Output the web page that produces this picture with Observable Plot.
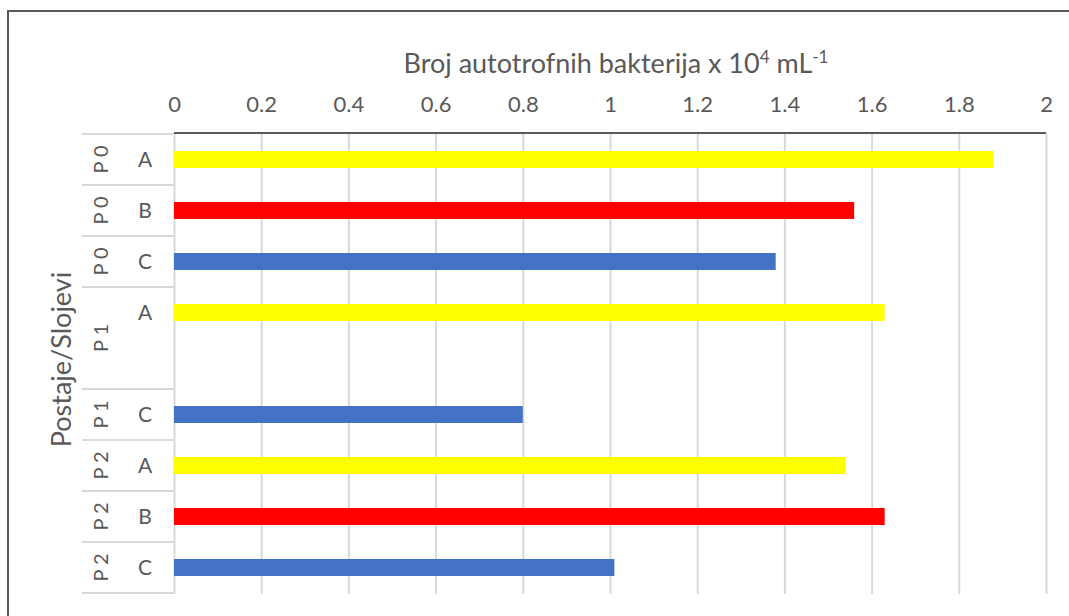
<!DOCTYPE html>
<html>
<head>
<meta charset="utf-8">
<script src="https://cdn.jsdelivr.net/npm/d3@7"></script>
<script src="https://cdn.jsdelivr.net/npm/@observablehq/plot@0.6"></script>
<style>
  body { margin: 0; background: #fff; }
</style>
</head>
<body>
<div id="chart"></div>
<script>
// One row per station/layer combination (P 1 / B has no measurement)
const rowIds  = ["P0-A", "P0-B", "P0-C", "P1-A", "P1-B", "P1-C", "P2-A", "P2-B", "P2-C"];
const layers  = ["A", "B", "C", "A", "", "C", "A", "B", "C"];
const counts  = [1.88, 1.56, 1.38, 1.63, null, 0.80, 1.54, 1.63, 1.01];

// Outer category cells (station labels) and how many rows each spans
const stationLabels = ["P 0", "P 0", "P 0", "P 1", "P 1", "P 2", "P 2", "P 2"];
const stationSpans  = [1, 1, 1, 2, 1, 1, 1, 1];

const layerDomain = ["A", "B", "C"];
const layerColors = ["#ffff00", "#ff0000", "#4472c4"];

const xTicks = [0, 0.2, 0.4, 0.6, 0.8, 1, 1.2, 1.4, 1.6, 1.8, 2];

const rows = rowIds.map((id, i) => ({id, layer: layers[i], value: counts[i]}));
const bars = rows.filter(d => d.value != null);

const FONT = "Lato, 'Open Sans', sans-serif";
const GREY = "#595959";

// Category table, frame, and titles drawn with the y band scale
function categoryTable(index, scales, values, dimensions) {
  const y = scales.y;
  const step = y(rowIds[1]) - y(rowIds[0]);
  const bw = y.bandwidth ? y.bandwidth() : 0;
  const top = id => y(id) - (step - bw) / 2;
  const center = id => y(id) + bw / 2;
  const {width, height, marginLeft, marginRight, marginTop} = dimensions;
  const g = d3.create("svg:g").attr("font-family", FONT).attr("fill", GREY);

  // row separators of the station column
  const sepX0 = marginLeft - 92;
  let r = 0;
  const bounds = [];
  stationSpans.forEach(s => { bounds.push(top(rowIds[r])); r += s; });
  bounds.push(top(rowIds[rowIds.length - 1]) + step);
  g.append("g").attr("stroke", "#d9d9d9").attr("stroke-width", 2)
    .selectAll("line").data(bounds).join("line")
    .attr("x1", sepX0).attr("x2", marginLeft)
    .attr("y1", d => d).attr("y2", d => d);

  // axis line along the top
  g.append("line")
    .attr("x1", marginLeft).attr("x2", width - marginRight)
    .attr("y1", marginTop).attr("y2", marginTop)
    .attr("stroke", GREY).attr("stroke-width", 2);

  // layer labels
  g.append("g").attr("font-size", 21).attr("text-anchor", "middle")
    .selectAll("text").data(rows).join("text")
    .attr("x", marginLeft - 29).attr("y", d => center(d.id))
    .attr("dy", "0.35em").text(d => d.layer);

  // station labels, rotated, centred over their span
  r = 0;
  const cells = stationLabels.map((label, i) => {
    const y0 = top(rowIds[r]);
    const y1 = y0 + stationSpans[i] * step;
    r += stationSpans[i];
    return {label, cy: (y0 + y1) / 2};
  });
  g.append("g").attr("font-size", 20).attr("text-anchor", "middle")
    .selectAll("text").data(cells).join("text")
    .attr("transform", d => `translate(${marginLeft - 73},${d.cy}) rotate(-90)`)
    .attr("dy", "0.35em").text(d => d.label);

  // y axis title
  g.append("text").attr("font-size", 27).attr("text-anchor", "middle")
    .attr("transform", `translate(62,${(marginTop + height - dimensions.marginBottom) / 2 - 4}) rotate(-90)`)
    .attr("dy", "0.35em").text("Postaje/Slojevi");

  // x axis title with superscripts
  const t = g.append("text").attr("font-size", 27).attr("text-anchor", "middle")
    .attr("x", 616).attr("y", 73);
  t.append("tspan").text("Broj autotrofnih bakterija x 10");
  t.append("tspan").attr("font-size", 17).attr("dy", -10).text("4");
  t.append("tspan").attr("dy", 10).text(" mL");
  t.append("tspan").attr("font-size", 17).attr("dy", -10).text("-1");

  // outer chart frame (left and top edges)
  g.append("path").attr("fill", "none").attr("stroke", GREY).attr("stroke-width", 2)
    .attr("d", `M8,${height}V11H${width}`);
  return g.node();
}

const chart = Plot.plot({
  width: 1069,
  height: 616,
  marginLeft: 174,
  marginRight: 23,
  marginTop: 133,
  marginBottom: 22,
  style: {fontFamily: FONT, fontSize: "22px", color: GREY, background: "#fff"},
  x: {domain: [0, 2]},
  y: {domain: rowIds, axis: null, paddingInner: 0.667, paddingOuter: 0.333},
  color: {domain: layerDomain, range: layerColors},
  marks: [
    Plot.ruleX(xTicks, {stroke: "#d9d9d9", strokeWidth: 2}),
    Plot.axisX({
      anchor: "top",
      ticks: xTicks,
      tickFormat: d => String(+d.toFixed(1)),
      tickSize: 0,
      tickPadding: 22,
      fontSize: 22,
      label: null
    }),
    Plot.barX(bars, {x: "value", y: "id", fill: "layer"}),
    categoryTable
  ]
});

document.getElementById("chart").append(chart);
</script>
</body>
</html>
